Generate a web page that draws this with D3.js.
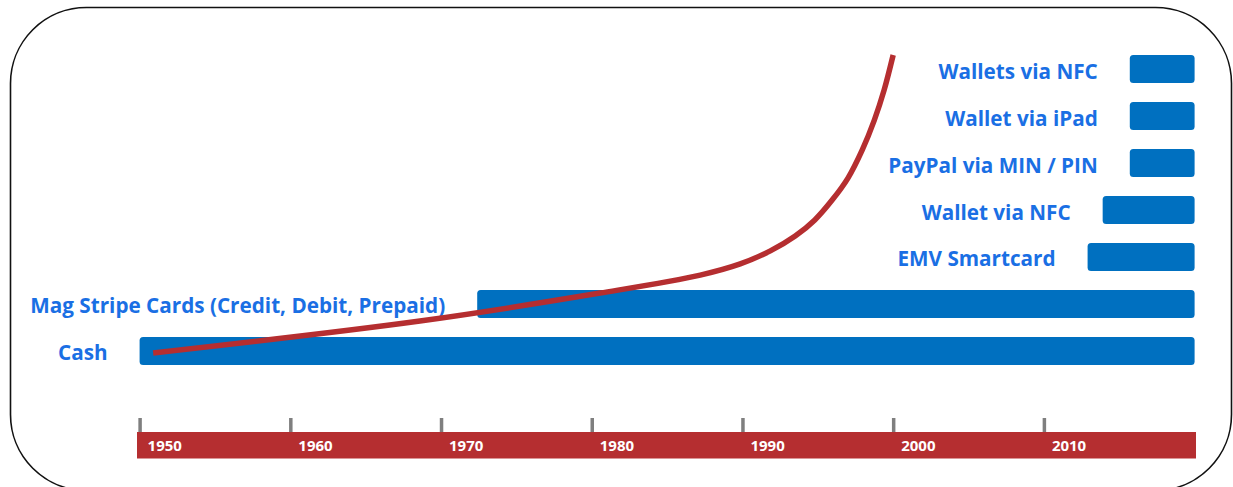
<!DOCTYPE html>
<html>
<head>
<meta charset="utf-8">
<script src="https://cdn.jsdelivr.net/npm/d3@7"></script>
<style>
  html, body { margin: 0; padding: 0; background: #ffffff; }
  svg { display: block; }
</style>
</head>
<body>
<svg id="chart" width="1233" height="487"></svg>
<script>
// ---- data ----
const categories = ["Wallets via NFC", "Wallet via iPad", "PayPal via MIN / PIN", "Wallet via NFC", "EMV Smartcard", "Mag Stripe Cards (Credit, Debit, Prepaid)", "Cash"];
const startYears = [2015.7, 2015.7, 2015.7, 2013.9, 2012.9, 1972.4, 1950];
const endYears   = [2020, 2020, 2020, 2020, 2020, 2020, 2020];
const tickYears  = [1950, 1960, 1970, 1980, 1990, 2000, 2010];
const tickLabels = ["1950", "1960", "1970", "1980", "1990", "2000", "2010"];
// adoption growth curve (relative index 0-100)
const curveYears  = [1950.9, 1968.6, 1980.55, 1987.2, 1989.85, 1991.85, 1993.5, 1994.8, 1995.95, 1997.0, 1997.95, 1998.75, 1999.4, 2000.0];
const curveValues = [3.9, 14.2, 23.2, 29.0, 32.6, 36.8, 41.6, 46.8, 53.2, 60.3, 69.4, 79.0, 88.7, 100];

// ---- layout ----
const svg = d3.select("#chart");
const barColor = "#0070C0";
const textColor = "#1A6FE4";
const red = "#B52E30";

const x = d3.scaleLinear().domain([1950, 2020]).range([139.6, 1194.6]);
const y = d3.scaleBand().domain(categories).range([55, 365]).paddingInner(0.404).paddingOuter(0);
const yc = d3.scaleLinear().domain([0, 100]).range([365, 55]);

// frame
svg.append("rect")
  .attr("x", 10.5).attr("y", 7.5)
  .attr("width", 1221).attr("height", 483)
  .attr("rx", 76).attr("ry", 76)
  .attr("fill", "none").attr("stroke", "#111").attr("stroke-width", 1.6);

// bars
const rows = categories.map((c, i) => ({ name: c, start: startYears[i], end: endYears[i] }));
svg.append("g").selectAll("rect").data(rows).join("rect")
  .attr("x", d => x(d.start))
  .attr("y", d => y(d.name))
  .attr("width", d => x(d.end) - x(d.start))
  .attr("height", y.bandwidth())
  .attr("rx", 3.5).attr("ry", 3.5)
  .attr("fill", barColor);

// labels
svg.append("g").selectAll("text").data(rows).join("text")
  .attr("x", d => x(d.start) - 32)
  .attr("y", d => y(d.name) + y.bandwidth() / 2 + 9.5)
  .attr("text-anchor", "end")
  .attr("font-family", "'Open Sans', sans-serif")
  .attr("font-weight", "bold")
  .attr("font-size", 20.7)
  .attr("fill", textColor)
  .text(d => d.name);

// growth curve
const pts = curveYears.map((yr, i) => [yr, curveValues[i]]);
svg.append("path")
  .datum(pts)
  .attr("d", d3.line().x(d => x(d[0])).y(d => yc(d[1])).curve(d3.curveCatmullRom.alpha(0.5)))
  .attr("fill", "none")
  .attr("stroke", red)
  .attr("stroke-width", 5.5);

// timeline axis
const axisY = 432;
svg.append("rect")
  .attr("x", x(1950) - 2.6).attr("y", axisY)
  .attr("width", x(2020) - x(1950) + 4).attr("height", 26.5)
  .attr("fill", red);

const axis = d3.axisTop(x).tickValues(tickYears).tickSize(14).tickFormat("");
const ag = svg.append("g").attr("transform", `translate(0,${axisY})`).call(axis);
ag.select(".domain").remove();
ag.selectAll(".tick line").attr("stroke", "#7f7f7f").attr("stroke-width", 3.5);

svg.append("g").selectAll("text").data(tickYears).join("text")
  .attr("x", d => x(d) + 8)
  .attr("y", axisY + 19)
  .attr("font-family", "'Open Sans', sans-serif")
  .attr("font-weight", "bold")
  .attr("font-size", 15)
  .attr("fill", "#ffffff")
  .text((d, i) => tickLabels[i]);
</script>
</body>
</html>
